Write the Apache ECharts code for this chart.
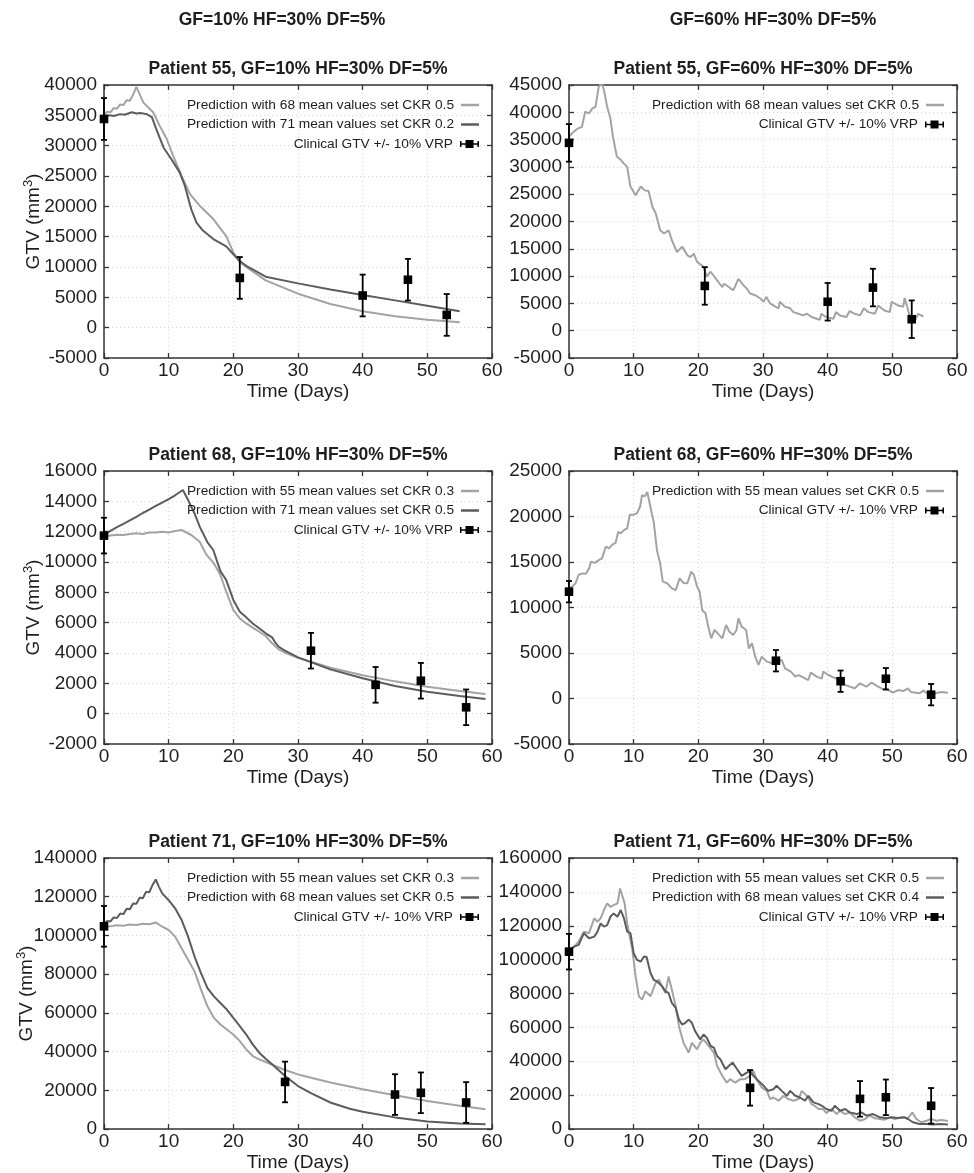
<!DOCTYPE html>
<html>
<head>
<meta charset="utf-8">
<script src="https://cdn.jsdelivr.net/npm/echarts@6.0.0/dist/echarts.min.js"></script>
<style>html,body{margin:0;padding:0;background:#fff}#c{width:974px;height:1173px}</style>
</head>
<body>
<div id="c"></div>
<script>
// ---------------- DATA ----------------
const xTicks = [0, 60, 10];
const columnTitles = ['GF=10% HF=30% DF=5%', 'GF=60% HF=30% DF=5%'];
const panelTitles = [
  'Patient 55, GF=10% HF=30% DF=5%', 'Patient 55, GF=60% HF=30% DF=5%',
  'Patient 68, GF=10% HF=30% DF=5%', 'Patient 68, GF=60% HF=30% DF=5%',
  'Patient 71, GF=10% HF=30% DF=5%', 'Patient 71, GF=60% HF=30% DF=5%'
];
const yRanges = [[-5000, 40000, 5000], [-5000, 45000, 5000], [-2000, 16000, 2000], [-5000, 25000, 5000], [0, 140000, 20000], [0, 160000, 20000]];
const clinName = 'Clinical GTV +/- 10% VRP';

// Patient 55 clinical
const p55Days = [0, 21, 40, 47, 53];
const p55Gtv = [34400, 8200, 5300, 7900, 2100];
const p55Err = [3440, 3440, 3440, 3440, 3440];
// Patient 68 clinical
const p68Days = [0, 32, 42, 49, 56];
const p68Gtv = [11740, 4150, 1900, 2170, 420];
const p68Err = [1175, 1175, 1175, 1175, 1175];
// Patient 71 clinical
const p71Days = [0, 28, 45, 49, 56];
const p71Gtv = [104700, 24300, 17800, 18700, 13700];
const p71Err = [10500, 10500, 10500, 10500, 10500];

// Patient 55, GF=10%
const p55g10Pred68 = [[0,35000],[0.5,35600],[1,35500],[1.5,36200],[2,36100],[2.5,36800],[3,36700],[3.5,37500],[4,37400],[4.5,38400],[4.8,38300],[5,39700],[6.1,37100],[7.6,35500],[8.6,33300],[9.7,31100],[10.7,28300],[12,25000],[13.3,22000],[14.8,20100],[16.9,17900],[18.9,15100],[20,12400],[21,10800],[22,10000],[25,7800],[30,5600],[35,3900],[40,2700],[45,1900],[50,1300],[55,900]];
const p55g10Pred71 = [[0,34800],[0.9,35000],[1.5,34900],[2.5,35200],[3.2,35100],[4.3,35500],[5,35300],[5.6,35400],[6.6,35200],[7.4,34700],[8.1,32700],[9.2,29700],[10.4,27800],[11.7,25600],[12.5,23400],[13.5,19500],[14.3,17300],[15.3,16000],[16.9,14600],[18.9,13400],[20,12100],[21,11000],[22,10200],[25,8400],[30,7300],[35,6300],[40,5400],[45,4500],[50,3600],[55,2700]];
// Patient 55, GF=60%
const p55g60Pred68 = [[0,35500],[0.5,36200],[1.3,37000],[2,37300],[2.5,40100],[2.8,40400],[3.1,39800],[3.6,40700],[4.1,41000],[4.6,44700],[5.1,45300],[5.4,44100],[5.9,41000],[6.4,38900],[6.8,35500],[7.4,31900],[8,31300],[8.5,30600],[9,30000],[9.5,26400],[10.3,24800],[11.1,26400],[11.7,25700],[12.3,25600],[12.9,22700],[13.4,21500],[14.1,18400],[14.7,17800],[15.4,18400],[15.9,16600],[16.7,14400],[17.5,15400],[18.3,13800],[18.8,13500],[19.3,14100],[19.8,12600],[20.8,11700],[21.3,9900],[21.9,10800],[22.9,9200],[23.7,8000],[24,8600],[24.7,8000],[25.4,7400],[26.2,9500],[27,8300],[27.5,7700],[28,6800],[28.8,6500],[29.6,5900],[30.1,5300],[30.5,6200],[31.1,5000],[31.9,4400],[32.4,4100],[32.6,5300],[33.4,4400],[34.2,4100],[34.7,3400],[35.5,3100],[36.2,2800],[36.8,3100],[37.5,2500],[38.3,2200],[38.8,2000],[39,3100],[39.8,2500],[40.9,2200],[41.3,3400],[41.9,2800],[42.9,2500],[43.4,3600],[44.2,3100],[45,2800],[45.6,4100],[46.3,3400],[47.3,3100],[47.8,4600],[48.8,3700],[49.6,3400],[49.9,5300],[50.9,4600],[51.7,4400],[51.9,6000],[52.3,4400],[52.7,2500],[53.5,1900],[54,3100],[54.8,2600]];
// Patient 68, GF=10%
const p68g10Pred55 = [[0,11700],[1,11750],[2,11800],[3,11780],[4,11850],[5,11900],[6,11850],[7,11950],[8,11950],[9,12000],[10,11950],[11,12050],[12,12110],[13.5,11780],[14.8,11340],[15.8,10500],[17,9900],[18,9140],[18.9,8040],[20,6830],[21,6280],[22,5950],[23,5670],[24,5400],[25,5120],[26,4640],[27,4240],[28,4020],[30,3690],[35,3030],[40,2530],[45,2130],[50,1780],[55,1490],[59,1300]];
const p68g10Pred71 = [[0,11800],[1,12050],[2,12300],[3,12520],[4,12750],[5,12980],[6,13230],[7,13450],[8,13700],[9,13920],[10,14150],[11,14400],[12.2,14750],[13,14090],[14,13200],[14.8,12330],[16,11300],[16.9,10790],[18,9400],[18.9,8810],[20,7500],[21,6720],[22,6350],[23,5950],[24,5630],[25,5300],[26,5030],[26.5,4680],[27,4420],[28,4150],[30,3710],[35,2920],[40,2330],[45,1820],[50,1450],[55,1160],[59,960]];
// Patient 68, GF=60%
const p68g60Pred55 = [[0,12100],[0.5,12300],[1,12650],[1.5,13600],[2.1,13750],[2.6,13700],[3.1,14300],[3.4,15040],[4,14900],[4.6,15200],[5.1,15400],[5.7,16700],[6.2,16500],[6.7,16900],[7.2,17100],[7.6,18300],[8,18150],[8.5,18500],[9,18700],[9.4,20200],[10,20200],[10.5,20350],[11,21100],[11.3,22360],[11.7,22200],[12.1,22700],[12.4,22900],[12.8,20350],[13.1,19400],[13.6,16300],[14.1,14850],[14.5,12840],[15.2,12660],[15.9,12100],[16.5,11900],[17.1,13200],[17.7,12700],[18.3,12660],[18.9,13940],[19.3,13600],[19.8,12300],[20.2,11740],[20.6,9700],[21.1,9360],[21.6,7700],[22,6610],[22.5,7530],[23,7160],[23.7,6610],[24.3,8080],[24.8,7340],[25.4,6980],[25.9,7530],[26.2,8810],[26.7,7900],[27.4,7530],[27.8,5510],[28.3,6060],[28.8,4600],[29.3,3680],[29.8,4600],[30.6,4050],[31.4,3870],[32.1,4050],[32.9,4230],[33.4,3320],[34.3,2950],[35,2400],[35.5,2580],[36.2,2330],[37,2030],[37.4,2840],[38.3,2400],[39.1,2180],[39.3,2950],[40.1,2580],[40.9,2330],[41.9,2030],[42.7,1480],[43.4,1300],[44.2,1120],[45,1670],[46,1300],[46.8,1750],[47.6,1380],[48.6,1010],[49.4,930],[50.1,640],[50.9,930],[51.7,820],[52.4,1120],[52.9,710],[54.2,570],[54.8,860],[55.5,500],[56.6,570],[57.6,710],[58.6,640]];
// Patient 71, GF=10%
const p71g10Pred55 = [[0,104500],[1,104800],[2,105200],[3,105000],[4,105600],[5,105400],[6,106000],[7,105800],[8,106700],[9,104500],[10,102800],[11,99400],[12,93400],[13,87400],[14,81400],[15,72000],[16,63400],[17,57400],[18,54000],[19,51400],[20,48800],[21,45400],[22,41100],[23,37700],[24,36000],[25,34600],[26,33200],[28,30500],[30,28200],[35,24000],[40,20500],[45,17400],[50,14500],[55,12000],[59,10200]];
const p71g10Pred68 = [[0,106000],[0.5,107500],[1,107200],[1.5,109300],[2,109000],[2.5,111300],[3,111000],[3.5,113800],[4,113500],[4.5,116500],[5,116300],[5.5,119500],[6,119200],[6.5,122500],[7,122300],[7.5,126000],[8,128900],[8.5,125100],[9,121700],[10,118200],[11,114000],[12,108000],[13,99400],[14,89100],[15,80500],[16,72800],[17,68500],[18,65100],[19,61700],[20,57400],[21,53100],[22,48800],[23,43700],[24,39400],[25,36300],[26,33400],[28,27400],[30,22200],[32,18500],[35,13700],[38,10500],[40,8900],[45,6000],[50,3900],[55,2900],[59,2400]];
// Patient 71, GF=60%
const p71g60Pred55 = [[0,105800],[0.8,107700],[1.5,110700],[2.3,116500],[3.1,115600],[3.9,124400],[4.4,122400],[4.9,124400],[5.4,129300],[5.9,133200],[6.4,131200],[6.9,132200],[7.5,133200],[7.9,142000],[8.2,141000],[8.6,133200],[9,121400],[9.4,113600],[9.8,105800],[10.3,90100],[10.8,78400],[11.3,76400],[11.8,81300],[12.6,78400],[13.4,86200],[13.9,88100],[14.4,84200],[14.9,80300],[15.4,90100],[15.9,82300],[16.5,72500],[17,60700],[17.7,50900],[18.5,45100],[19,50900],[19.8,47000],[20.3,50900],[20.8,52900],[21.6,49000],[22.4,45100],[22.9,37200],[23.7,31400],[24.4,27400],[24.9,29400],[25.7,27400],[26.5,29400],[27.2,29400],[28,31400],[28.5,34300],[29,29400],[29.8,24500],[30.6,22500],[31.1,17700],[31.6,18600],[32.4,16700],[33.2,19600],[33.9,17700],[34.7,16700],[35.5,17700],[36,22500],[36.5,20600],[37,18600],[37.5,14700],[38,13700],[38.6,11800],[39.3,11800],[39.8,9400],[40.6,11800],[41.4,8800],[41.9,10800],[42.7,8800],[43.4,9800],[44.2,6900],[45,4900],[45.8,5900],[46.5,7900],[47.3,6300],[48.1,5900],[48.8,5500],[49.6,6900],[50.4,5900],[51.4,6900],[52.4,6300],[53.1,9800],[53.7,5900],[54.5,4000],[55.3,4900],[56,5900],[56.8,4900],[57.6,5300],[58.6,4700]];
const p71g60Pred68 = [[0,105400],[0.8,107700],[1.5,108700],[2.3,115600],[3.1,112600],[3.9,113600],[4.4,116500],[4.9,121400],[5.4,119500],[5.9,120400],[6.4,125300],[6.9,127300],[7.5,125300],[8,129300],[8.5,124400],[9,116500],[9.5,115600],[10,103800],[10.5,99900],[11.1,98900],[11.6,101800],[12,101500],[12.6,92100],[13.1,88100],[13.6,87200],[13.9,88100],[14.4,84200],[14.9,81300],[15.4,80300],[15.9,74400],[16.5,71500],[17,64600],[17.5,61700],[18,62700],[18.5,64600],[19,62700],[19.5,57800],[20.3,52900],[20.8,55800],[21.3,53900],[21.9,49000],[22.4,48000],[22.9,43100],[23.4,41200],[24.2,35300],[24.7,37200],[25.3,39200],[26,35300],[26.7,31400],[27.5,33300],[28,34300],[28.5,31400],[29.3,28400],[30.1,25500],[30.8,22500],[31.6,23500],[32.1,25500],[32.9,22500],[33.7,19600],[34.2,22500],[35,19600],[35.7,18600],[36.5,16700],[37,19600],[37.8,15700],[38.6,14700],[39.1,13700],[39.8,11800],[40.6,10800],[41.1,13700],[41.9,10800],[42.7,11800],[43.4,9800],[44.5,8800],[45.2,9800],[46,7900],[47,8800],[48.1,6900],[49.1,6300],[49.9,6900],[50.9,6500],[51.9,6900],[52.4,5900],[53.2,4000],[54.2,3000],[55.3,3000],[56.3,2600],[57.3,3000],[58.6,2700]];

// ---------------- STYLE / LAYOUT ----------------
const FONT = '"Liberation Sans", Arial, Helvetica, sans-serif';
const LIGHT = '#a3a3a3', DARK = '#5c5c5c', INK = '#1e1e1e', FRAME = '#333';
const ERR_ICON = 'path://M0 1h1.5v6H0z M17.5 1H19v6h-1.5z M0 3.2H19v1.6H0z M5.5 0h8v8h-8z';
const gridBoxes = [[104, 85, 388, 273], [569, 85, 388, 273], [104, 471, 388, 273], [569, 471, 388, 273], [104, 858, 388, 272], [569, 858, 388, 272]];
const yNameGaps = [58, 0, 58, 0, 65, 0];
const colCenters = [282, 773];
const LEG_OFFS = [20, 39.5, 59];

const panels = [
  { curves: [{ name: 'Prediction with 68 mean values set CKR 0.5', data: p55g10Pred68, color: LIGHT }, { name: 'Prediction with 71 mean values set CKR 0.2', data: p55g10Pred71, color: DARK }], days: p55Days, gtv: p55Gtv, err: p55Err, yName: true },
  { curves: [{ name: 'Prediction with 68 mean values set CKR 0.5', data: p55g60Pred68, color: LIGHT }], days: p55Days, gtv: p55Gtv, err: p55Err, yName: false },
  { curves: [{ name: 'Prediction with 55 mean values set CKR 0.3', data: p68g10Pred55, color: LIGHT }, { name: 'Prediction with 71 mean values set CKR 0.5', data: p68g10Pred71, color: DARK }], days: p68Days, gtv: p68Gtv, err: p68Err, yName: true },
  { curves: [{ name: 'Prediction with 55 mean values set CKR 0.5', data: p68g60Pred55, color: LIGHT }], days: p68Days, gtv: p68Gtv, err: p68Err, yName: false },
  { curves: [{ name: 'Prediction with 55 mean values set CKR 0.3', data: p71g10Pred55, color: LIGHT }, { name: 'Prediction with 68 mean values set CKR 0.5', data: p71g10Pred68, color: DARK }], days: p71Days, gtv: p71Gtv, err: p71Err, yName: true },
  { curves: [{ name: 'Prediction with 55 mean values set CKR 0.5', data: p71g60Pred55, color: LIGHT }, { name: 'Prediction with 68 mean values set CKR 0.4', data: p71g60Pred68, color: DARK }], days: p71Days, gtv: p71Gtv, err: p71Err, yName: false }
];

function renderErr(params, api) {
  const x = api.value(0), y = api.value(1), lo = api.value(2), hi = api.value(3);
  const c = api.coord([x, y]), l = api.coord([x, lo]), h = api.coord([x, hi]);
  const cap = 3, s = 4.3;
  const st = { stroke: '#000', lineWidth: 1.8, fill: null };
  return {
    type: 'group', children: [
      { type: 'line', shape: { x1: l[0], y1: l[1], x2: h[0], y2: h[1] }, style: st },
      { type: 'line', shape: { x1: l[0] - cap, y1: l[1], x2: l[0] + cap, y2: l[1] }, style: st },
      { type: 'line', shape: { x1: h[0] - cap, y1: h[1], x2: h[0] + cap, y2: h[1] }, style: st },
      { type: 'rect', shape: { x: c[0] - s, y: c[1] - s, width: 2 * s, height: 2 * s }, style: { fill: '#000' } }
    ]
  };
}

const option = { animation: false, backgroundColor: '#fff', title: [], grid: [], xAxis: [], yAxis: [], series: [], legend: [] };

const textBase = { color: INK, fontFamily: FONT };
const plain = v => String(v);
columnTitles.forEach((t, k) => option.title.push({
  text: t, left: colCenters[k], top: 20, textAlign: 'center', textVerticalAlign: 'middle', padding: 0,
  textStyle: Object.assign({ fontSize: 17.5, fontWeight: 'bold' }, textBase)
}));

const tick = { show: true, inside: true, length: 5, lineStyle: { color: FRAME, width: 1.3 } };
const aLine = { show: true, onZero: false, lineStyle: { color: FRAME, width: 1.5 } };
const split = { show: true, lineStyle: { type: [1, 3], color: '#d6d6d6', width: 1 } };

panels.forEach((p, i) => {
  const [l, t, w, h] = gridBoxes[i];
  const [ymin, ymax, yint] = yRanges[i];
  option.grid.push({ left: l, top: t, width: w, height: h });
  option.title.push({
    text: panelTitles[i], left: l + w / 2, top: t - 16, textAlign: 'center', textVerticalAlign: 'middle', padding: 0,
    textStyle: Object.assign({ fontSize: 17.5, fontWeight: 'bold' }, textBase)
  });
  option.xAxis.push({
    type: 'value', gridIndex: i, position: 'bottom', min: xTicks[0], max: xTicks[1], interval: xTicks[2],
    axisLine: aLine, axisTick: tick, splitLine: split,
    axisLabel: Object.assign({ fontSize: 19, margin: 3, formatter: plain }, textBase),
    name: 'Time (Days)', nameLocation: 'middle', nameGap: 24, nameMoveOverlap: false,
    nameTextStyle: Object.assign({ fontSize: 19 }, textBase)
  });
  option.xAxis.push({
    type: 'value', gridIndex: i, position: 'top', min: xTicks[0], max: xTicks[1], interval: xTicks[2],
    axisLine: aLine, axisTick: tick, splitLine: { show: false }, axisLabel: { show: false }
  });
  const yAx = {
    type: 'value', gridIndex: i, position: 'left', min: ymin, max: ymax, interval: yint,
    axisLine: aLine, axisTick: tick, splitLine: split,
    axisLabel: Object.assign({ fontSize: 19, margin: 7, formatter: plain }, textBase)
  };
  if (p.yName) {
    yAx.name = '{a|GTV (mm}{b|3}{a|)}';
    yAx.nameLocation = 'middle';
    yAx.nameRotate = 90;
    yAx.nameGap = yNameGaps[i];
    yAx.nameMoveOverlap = false;
    yAx.nameTextStyle = {
      rich: {
        a: { fontSize: 19, lineHeight: 24, verticalAlign: 'middle', color: INK, fontFamily: FONT },
        b: { fontSize: 13, lineHeight: 13, verticalAlign: 'top', color: INK, fontFamily: FONT }
      }
    };
  }
  option.yAxis.push(yAx);
  option.yAxis.push({
    type: 'value', gridIndex: i, position: 'right', min: ymin, max: ymax, interval: yint,
    axisLine: aLine, axisTick: tick, splitLine: { show: false }, axisLabel: { show: false }
  });

  p.curves.forEach(c => option.series.push({
    type: 'line', name: c.name, xAxisIndex: 2 * i, yAxisIndex: 2 * i, data: c.data,
    symbol: 'none', showSymbol: false, clip: true, silent: true, z: 2,
    lineStyle: { color: c.color, width: 2 }, itemStyle: { color: c.color }
  }));
  option.series.push({
    type: 'custom', name: clinName, xAxisIndex: 2 * i, yAxisIndex: 2 * i,
    renderItem: renderErr, clip: false, silent: true, z: 4,
    itemStyle: { color: '#000' },
    encode: { x: 0, y: [1, 2, 3] },
    data: p.days.map((d, k) => [d, p.gtv[k], p.gtv[k] - p.err[k], p.gtv[k] + p.err[k]])
  });

  const right = 974 - (l + w - 13);
  const items = p.curves.map(c => ({ name: c.name, color: c.color, icon: 'rect', iw: 18, ih: 2.5 }));
  items.push({ name: clinName, color: '#000', icon: ERR_ICON, iw: 19, ih: 8 });
  items.forEach((it, k) => option.legend.push({
    right: right, top: t + LEG_OFFS[k] - 8, orient: 'horizontal', align: 'right', padding: 0,
    selectedMode: false, itemWidth: it.iw, itemHeight: it.ih,
    textStyle: { fontSize: 13.7, lineHeight: 16, color: INK, fontFamily: FONT, padding: [0, 2, 0, 0] },
    data: [{ name: it.name, icon: it.icon, itemStyle: { color: it.color, borderWidth: 0 } }]
  }));
});

const chart = echarts.init(document.getElementById('c'));
chart.setOption(option);
</script>
</body>
</html>
